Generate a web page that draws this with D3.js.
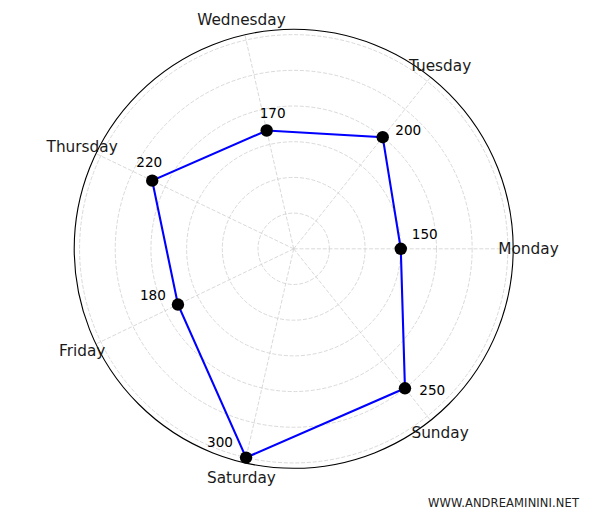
<!DOCTYPE html>
<html>
<head>
<meta charset="utf-8">
<script src="https://cdn.jsdelivr.net/npm/d3@7/dist/d3.min.js"></script>
<style>
  html, body { margin: 0; padding: 0; background: #fff; }
  svg { display: block; font-family: "DejaVu Sans", sans-serif; }
</style>
</head>
<body>
<script>
// weekly values, polar line chart (matplotlib-like look)
var days   = ['Monday', 'Tuesday', 'Wednesday', 'Thursday', 'Friday', 'Saturday', 'Sunday'];
var values = [150, 200, 170, 220, 180, 300, 250];
var radialTicks = [50, 100, 150, 200, 250, 300];

// where each value label sits relative to its point (pixels, text centre)
var labelNudge = [[24, -14.5], [25.5, -7], [6, -17.5], [-3, -19], [-25, -9.6], [-26, -15], [27.3, 2]];

var W = 600, H = 515;
var cx = 293.7, cy = 248.8, R = 219.5;

var svg = d3.select('body').append('svg')
  .attr('width', W)
  .attr('height', H);

var r = d3.scaleLinear().domain([0, 307.5]).range([0, R]);
var theta = d3.scaleLinear().domain([0, days.length]).range([0, 2 * Math.PI]);

function px(i, v){ return cx + r(v) * Math.cos(theta(i)); }
function py(i, v){ return cy - r(v) * Math.sin(theta(i)); }

var g = svg.append('g');

// circular grid
g.selectAll('.ring')
  .data(radialTicks)
  .enter().append('circle')
  .attr('class', 'ring')
  .attr('cx', cx).attr('cy', cy)
  .attr('r', function(d){ return r(d); })
  .attr('fill', 'none')
  .attr('stroke', '#cfcfcf')
  .attr('stroke-width', 0.8)
  .attr('stroke-dasharray', '4,1.8');

// spokes
g.selectAll('.spoke')
  .data(days)
  .enter().append('line')
  .attr('class', 'spoke')
  .attr('x1', cx).attr('y1', cy)
  .attr('x2', function(d, i){ return cx + R * Math.cos(theta(i)); })
  .attr('y2', function(d, i){ return cy - R * Math.sin(theta(i)); })
  .attr('stroke', '#cfcfcf')
  .attr('stroke-width', 0.8)
  .attr('stroke-dasharray', '4,1.8');

// outer frame
g.append('circle')
  .attr('cx', cx).attr('cy', cy).attr('r', R)
  .attr('fill', 'none')
  .attr('stroke', '#000')
  .attr('stroke-width', 1.1);

// day labels
g.selectAll('.day')
  .data(days)
  .enter().append('text')
  .attr('class', 'day')
  .attr('x', function(d, i){ return cx + (R + 15.3) * Math.cos(theta(i)); })
  .attr('y', function(d, i){ return cy - (R + 15.3) * Math.sin(theta(i)); })
  .attr('dy', '0.36em')
  .attr('text-anchor', 'middle')
  .style('font-size', '15.3px')
  .attr('fill', '#1a1a1a')
  .text(function(d){ return d; });

// data line (closed)
var pts = values.map(function(v, i){ return [px(i, v), py(i, v)]; });
g.append('path')
  .attr('d', d3.line().curve(d3.curveLinearClosed)(pts))
  .attr('fill', 'none')
  .attr('stroke', '#0000ff')
  .attr('stroke-width', 2.1)
  .attr('stroke-linejoin', 'miter');

// markers
g.selectAll('.dot')
  .data(values)
  .enter().append('circle')
  .attr('class', 'dot')
  .attr('cx', function(d, i){ return px(i, d); })
  .attr('cy', function(d, i){ return py(i, d); })
  .attr('r', 6.2)
  .attr('fill', '#000');

// value labels
g.selectAll('.val')
  .data(values)
  .enter().append('text')
  .attr('class', 'val')
  .attr('x', function(d, i){ return px(i, d) + labelNudge[i][0]; })
  .attr('y', function(d, i){ return py(i, d) + labelNudge[i][1]; })
  .attr('dy', '0.36em')
  .attr('text-anchor', 'middle')
  .style('font-size', '13.6px')
  .attr('fill', '#000')
  .text(function(d){ return d; });

// watermark
svg.append('text')
  .attr('x', 579).attr('y', 506.5)
  .attr('text-anchor', 'end')
  .attr('textLength', 151)
  .attr('lengthAdjust', 'spacing')
  .style('font-size', '11.5px')
  .attr('fill', '#222')
  .text('WWW.ANDREAMININI.NET');
</script>
</body>
</html>
